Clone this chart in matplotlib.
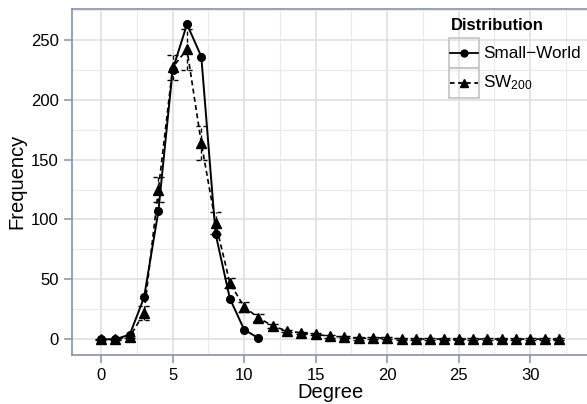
import matplotlib
matplotlib.use('Agg')
import matplotlib.pyplot as plt
import numpy as np
from matplotlib.lines import Line2D
from matplotlib.patches import Rectangle

plt.rcParams['font.family'] = ['Liberation Sans', 'DejaVu Sans']
plt.rcParams['mathtext.fontset'] = 'custom'
plt.rcParams['mathtext.rm'] = 'Liberation Sans'
plt.rcParams['mathtext.it'] = 'Liberation Sans'

# Small-World degree distribution
sw_deg = np.arange(0, 12)
sw_freq = np.array([0, 0, 4, 35, 107, 225, 263, 236, 88, 34, 8, 1])

# SW200 degree distribution (mean and error)
sw200_deg = np.arange(0, 33)
sw200_freq = np.array([0, 0, 2, 22, 125, 227, 242, 164, 97, 47, 27, 18, 11, 7, 5.3, 4.2,
                       2.5, 2, 0.8, 1.2, 1, 0.3, 0.3, 0.3, 0.2, 0.2, 0.2, 0.2, 0.2, 0.2,
                       0.2, 0.2, 0.2])
sw200_err = np.array([0.5, 0.5, 1, 5.5, 10.5, 10.5, 17, 14, 9, 4.5, 4, 3, 1.5, 1, 1, 1,
                      1, 1, 1, 1, 1, 1, 1, 1, 1, 1, 1, 1, 1, 1, 1, 1, 1])

fig = plt.figure(figsize=(5.87, 4.04), dpi=100)
ax = fig.add_axes([72/587, 49/404, 516/587, 346.5/404])

ax.set_xlim(-2.04, 34.04)
ax.set_ylim(-13.1, 276.1)

ax.set_xticks([0, 5, 10, 15, 20, 25, 30])
ax.set_xticks([2.5, 7.5, 12.5, 17.5, 22.5, 27.5, 32.5], minor=True)
ax.set_yticks([0, 50, 100, 150, 200, 250])
ax.set_yticks([25, 75, 125, 175, 225, 275], minor=True)
ax.grid(which='major', color='#dedede', lw=1.1)
ax.grid(which='minor', color='#ebebeb', lw=0.9)
ax.set_axisbelow(True)

spine_c = '#8792a6'
for s in ['left', 'bottom', 'top']:
    ax.spines[s].set_color(spine_c)
    ax.spines[s].set_linewidth(1.2)
ax.spines['right'].set_visible(False)
ax.tick_params(which='major', length=6, width=1.1, color=spine_c, labelsize=12,
               labelcolor='black', pad=3.5)
ax.tick_params(which='minor', length=0)

# error bars (dashed)
cap = 0.4
ax.vlines(sw200_deg, sw200_freq - sw200_err, sw200_freq + sw200_err,
          colors='black', linestyles=(0, (3, 2)), lw=1.0)
ax.hlines(sw200_freq - sw200_err, sw200_deg - cap, sw200_deg + cap,
          colors='black', linestyles=(0, (3, 2)), lw=1.0)
ax.hlines(sw200_freq + sw200_err, sw200_deg - cap, sw200_deg + cap,
          colors='black', linestyles=(0, (3, 2)), lw=1.0)

ax.plot(sw200_deg, sw200_freq, color='black', ls=(0, (3, 2)), lw=1.2,
        marker='^', ms=6.5)
ax.plot(sw_deg, sw_freq, color='black', ls='-', lw=1.4, marker='o', ms=5.5)

ax.set_xlabel('Degree', fontsize=14.5, labelpad=0)
ax.set_ylabel('Frequency', fontsize=14.5, labelpad=3)

# legend drawn by hand to mimic key boxes
def fx(px):
    return px / 587

def fy(py):
    return 1 - py / 404

fig.text(fx(451), fy(26), 'Distribution', fontsize=12, fontweight='bold',
         va='center', ha='left')
rows = [(38, 68, '-', 'o', 5, 'Small\u2212World'),
        (68, 98, (0, (2.5, 2)), '^', 5.5, 'SW$_{200}$')]
for top, bot, ls, mk, ms, lab in rows:
    fig.add_artist(Rectangle((fx(449), fy(bot)), fx(30), (bot - top) / 404,
                             transform=fig.transFigure, fill=False,
                             ec='#c4c4c4', lw=1.2))
    yc = fy((top + bot) / 2)
    fig.add_artist(Line2D([fx(450), fx(478)], [yc, yc], transform=fig.transFigure,
                          color='black', ls=ls, lw=1.3))
    fig.add_artist(Line2D([fx(464)], [yc], transform=fig.transFigure,
                          color='black', marker=mk, ms=ms, ls='none'))
    fig.text(fx(483), yc, lab, fontsize=12.3, va='center', ha='left')

fig.savefig('out.png', dpi=100)
